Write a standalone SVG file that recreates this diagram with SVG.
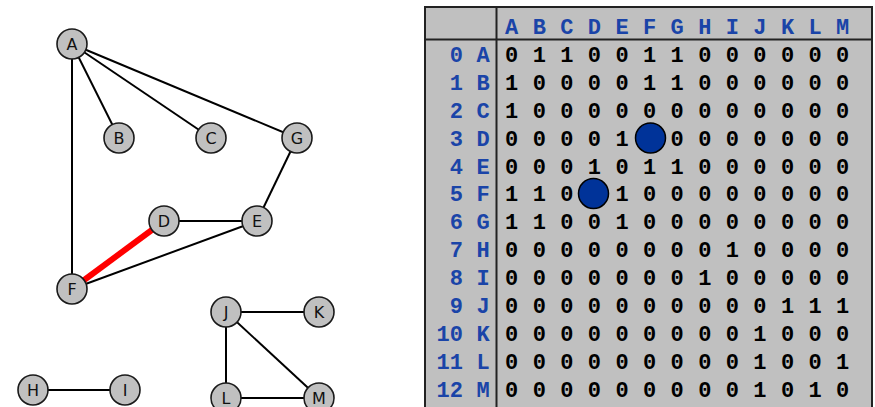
<svg xmlns="http://www.w3.org/2000/svg" width="875" height="407" viewBox="0 0 875 407">
  <style>
    .edge { stroke: #000; stroke-width: 2; fill: none; }
    .hot { stroke: #ff0000; stroke-width: 6; fill: none; }
    .node circle { fill: #c0c0c0; stroke: #1a1a1a; stroke-width: 1.6; }
    .node text { font-family: "DejaVu Sans", sans-serif; font-size: 16px; text-anchor: middle; fill: #111; }
    .hdr { font-family: "Liberation Mono", "Courier New", monospace; font-weight: bold; font-size: 22px; fill: #1a44a8; text-anchor: middle; }
    .idx { font-family: "Liberation Mono", "Courier New", monospace; font-weight: bold; font-size: 22px; fill: #1a44a8; text-anchor: end; }
    .val { font-family: "Liberation Mono", "Courier New", monospace; font-weight: bold; font-size: 22px; fill: #000; text-anchor: middle; }
    .mark { fill: #003399; stroke: #000; stroke-width: 1.5; }
  </style>

  <!-- graph edges -->
  <g id="edges">
    <line class="edge" x1="72" y1="44" x2="119" y2="138"/>
    <line class="edge" x1="72" y1="44" x2="211" y2="138"/>
    <line class="edge" x1="72" y1="44" x2="297" y2="138"/>
    <line class="edge" x1="72" y1="44" x2="72" y2="289"/>
    <line class="edge" x1="297" y1="138" x2="257" y2="221"/>
    <line class="edge" x1="164" y1="221" x2="257" y2="221"/>
    <line class="edge" x1="72" y1="289" x2="257" y2="221"/>
    <line class="hot" x1="72" y1="289" x2="164" y2="221"/>
    <line class="edge" x1="226" y1="312" x2="319" y2="312"/>
    <line class="edge" x1="226" y1="312" x2="226" y2="398"/>
    <line class="edge" x1="226" y1="312" x2="319" y2="398"/>
    <line class="edge" x1="226" y1="398" x2="319" y2="398"/>
    <line class="edge" x1="33" y1="390" x2="125" y2="390"/>
  </g>

  <!-- graph vertices -->
  <g id="node-A" class="node"><circle cx="72" cy="44" r="15"/><text x="72" y="50">A</text></g>
  <g id="node-B" class="node"><circle cx="119" cy="138" r="15"/><text x="119" y="144">B</text></g>
  <g id="node-C" class="node"><circle cx="211" cy="138" r="15"/><text x="211" y="144">C</text></g>
  <g id="node-G" class="node"><circle cx="297" cy="138" r="15"/><text x="297" y="144">G</text></g>
  <g id="node-D" class="node"><circle cx="164" cy="221" r="15"/><text x="164" y="227">D</text></g>
  <g id="node-E" class="node"><circle cx="257" cy="221" r="15"/><text x="257" y="227">E</text></g>
  <g id="node-F" class="node"><circle cx="72" cy="289" r="15"/><text x="72" y="295">F</text></g>
  <g id="node-J" class="node"><circle cx="226" cy="312" r="15"/><text x="226" y="318">J</text></g>
  <g id="node-K" class="node"><circle cx="319" cy="312" r="15"/><text x="319" y="318">K</text></g>
  <g id="node-H" class="node"><circle cx="33" cy="390" r="15"/><text x="33" y="396">H</text></g>
  <g id="node-I" class="node"><circle cx="125" cy="390" r="15"/><text x="125" y="396">I</text></g>
  <g id="node-L" class="node"><circle cx="226" cy="398" r="15"/><text x="226" y="404">L</text></g>
  <g id="node-M" class="node"><circle cx="319" cy="398" r="15"/><text x="319" y="404">M</text></g>

  <!-- adjacency matrix -->
  <g id="matrix">
    <rect x="425" y="7" width="447" height="410" fill="#c0c0c0" stroke="#222" stroke-width="2"/>
    <line x1="425" y1="39.5" x2="872" y2="39.5" stroke="#222" stroke-width="2"/>
    <line x1="496.5" y1="7" x2="496.5" y2="407" stroke="#222" stroke-width="2"/>

    <text class="hdr" y="34" x="511.7 539.3 566.9 594.4 622.0 649.6 677.2 704.8 732.3 759.9 787.5 815.1 842.7">ABCDEFGHIJKLM</text>

    <g class="idx">
      <text x="463" y="62">0</text>
      <text x="463" y="90">1</text>
      <text x="463" y="118">2</text>
      <text x="463" y="145.5">3</text>
      <text x="463" y="173.5">4</text>
      <text x="463" y="201">5</text>
      <text x="463" y="229">6</text>
      <text x="463" y="257">7</text>
      <text x="463" y="285">8</text>
      <text x="463" y="313">9</text>
      <text x="463" y="341">10</text>
      <text x="463" y="369">11</text>
      <text x="463" y="397">12</text>
    </g>
    <text class="hdr" x="483" y="62">A</text>
    <text class="hdr" x="483" y="90">B</text>
    <text class="hdr" x="483" y="118">C</text>
    <text class="hdr" x="483" y="145.5">D</text>
    <text class="hdr" x="483" y="173.5">E</text>
    <text class="hdr" x="483" y="201">F</text>
    <text class="hdr" x="483" y="229">G</text>
    <text class="hdr" x="483" y="257">H</text>
    <text class="hdr" x="483" y="285">I</text>
    <text class="hdr" x="483" y="313">J</text>
    <text class="hdr" x="483" y="341">K</text>
    <text class="hdr" x="483" y="369">L</text>
    <text class="hdr" x="483" y="397">M</text>

    <g class="val">
      <text y="62" x="511.7 539.3 566.9 594.4 622.0 649.6 677.2 704.8 732.3 759.9 787.5 815.1 842.7">0110011000000</text>
      <text y="90" x="511.7 539.3 566.9 594.4 622.0 649.6 677.2 704.8 732.3 759.9 787.5 815.1 842.7">1000011000000</text>
      <text y="118" x="511.7 539.3 566.9 594.4 622.0 649.6 677.2 704.8 732.3 759.9 787.5 815.1 842.7">1000000000000</text>
      <text y="145.5" x="511.7 539.3 566.9 594.4 622.0 677.2 704.8 732.3 759.9 787.5 815.1 842.7">000010000000</text>
      <text y="173.5" x="511.7 539.3 566.9 594.4 622.0 649.6 677.2 704.8 732.3 759.9 787.5 815.1 842.7">0001011000000</text>
      <text y="201" x="511.7 539.3 566.9 622.0 649.6 677.2 704.8 732.3 759.9 787.5 815.1 842.7">110100000000</text>
      <text y="229" x="511.7 539.3 566.9 594.4 622.0 649.6 677.2 704.8 732.3 759.9 787.5 815.1 842.7">1100100000000</text>
      <text y="257" x="511.7 539.3 566.9 594.4 622.0 649.6 677.2 704.8 732.3 759.9 787.5 815.1 842.7">0000000010000</text>
      <text y="285" x="511.7 539.3 566.9 594.4 622.0 649.6 677.2 704.8 732.3 759.9 787.5 815.1 842.7">0000000100000</text>
      <text y="313" x="511.7 539.3 566.9 594.4 622.0 649.6 677.2 704.8 732.3 759.9 787.5 815.1 842.7">0000000000111</text>
      <text y="341" x="511.7 539.3 566.9 594.4 622.0 649.6 677.2 704.8 732.3 759.9 787.5 815.1 842.7">0000000001000</text>
      <text y="369" x="511.7 539.3 566.9 594.4 622.0 649.6 677.2 704.8 732.3 759.9 787.5 815.1 842.7">0000000001001</text>
      <text y="397" x="511.7 539.3 566.9 594.4 622.0 649.6 677.2 704.8 732.3 759.9 787.5 815.1 842.7">0000000001010</text>
    </g>

    <!-- highlighted D-F cells -->
    <circle class="mark" cx="650.5" cy="138" r="15"/>
    <circle class="mark" cx="593.5" cy="193.5" r="15"/>
  </g>
</svg>
